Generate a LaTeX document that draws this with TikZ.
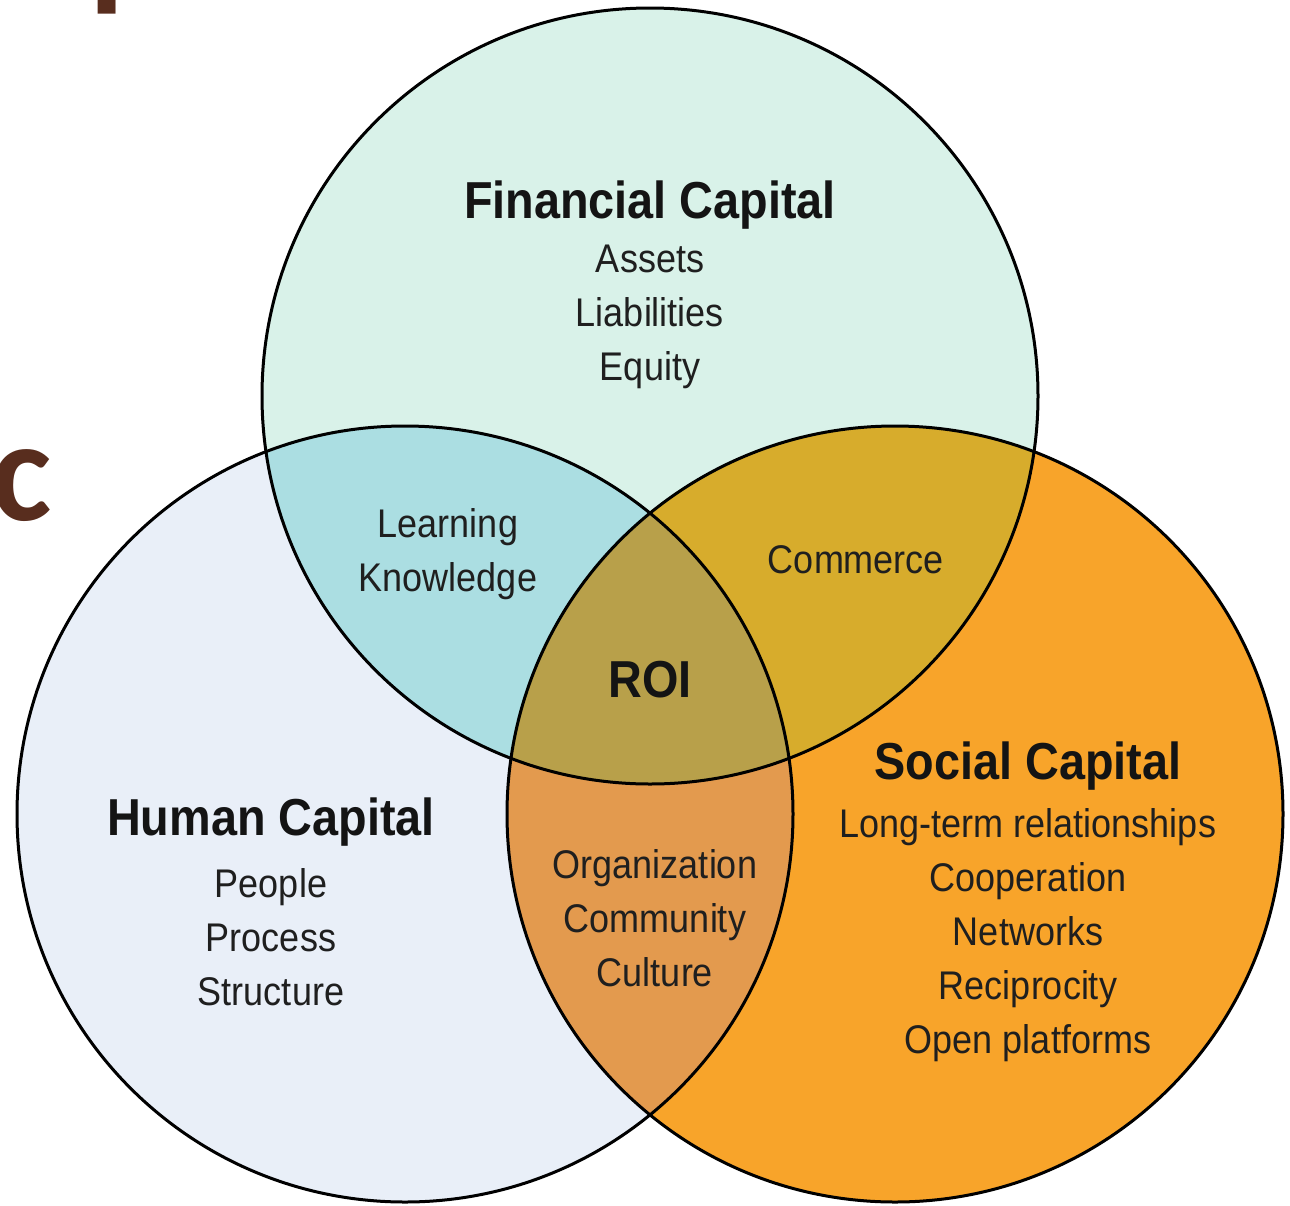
\documentclass[tikz,border=0pt]{standalone}
\usepackage{fontspec}
\setmainfont{Liberation Sans}
\newfontfamily\cond{Liberation Sans}[FakeStretch=0.9]
\newfontfamily\slidefont{Carlito}

\definecolor{finfill}{HTML}{D9F2E9}
\definecolor{humfill}{HTML}{E9EFF8}
\definecolor{socfill}{HTML}{F8A42A}
\definecolor{learnfill}{HTML}{ABDEE2}
\definecolor{commfill}{HTML}{D7AC2C}
\definecolor{orgfill}{HTML}{E39A4E}
\definecolor{roifill}{HTML}{B8A04A}
\definecolor{slidebrown}{HTML}{582D1E}

\newcommand{\capr}{388}

\begin{document}
\begin{tikzpicture}[
    x=0.5pt, y=-0.5pt,
    ring/.style={draw=black, line width=1.5pt},
    title/.style={font=\cond\bfseries\fontsize{26}{30}\selectfont, text=black!92, inner sep=0pt},
    item/.style={font=\cond\fontsize{20}{27}\selectfont, text=black!88, align=center, inner sep=0pt},
    slide/.style={font=\slidefont\bfseries\fontsize{72}{90}\selectfont, text=slidebrown, inner sep=0pt}
]
    \useasboundingbox (0,0) rectangle (1290,1205);
    \clip (0,0) rectangle (1290,1205);
    \fill[white] (0,0) rectangle (1290,1205);

    % --- slide heading, mostly hidden ---
    \node[slide, anchor=base west] (head) at (-58,-9) {Capital};
    \node[slide, anchor=base west] (headc) at (-9,520) {c};

    % --- circle centres ---
    \coordinate (fin) at (650,396);
    \coordinate (hum) at (405,814);
    \coordinate (soc) at (895,814);

    % base discs
    \fill[finfill] (fin) circle[radius=\capr];
    \fill[humfill] (hum) circle[radius=\capr];
    \fill[socfill] (soc) circle[radius=\capr];

    % pairwise overlaps
    \begin{scope}
        \clip (fin) circle[radius=\capr];
        \fill[learnfill] (hum) circle[radius=\capr];
        \fill[commfill] (soc) circle[radius=\capr];
    \end{scope}
    \begin{scope}
        \clip (hum) circle[radius=\capr];
        \fill[orgfill] (soc) circle[radius=\capr];
    \end{scope}
    % centre
    \begin{scope}
        \clip (fin) circle[radius=\capr];
        \clip (hum) circle[radius=\capr];
        \fill[roifill] (soc) circle[radius=\capr];
    \end{scope}

    \draw[ring] (fin) circle[radius=\capr];
    \draw[ring] (hum) circle[radius=\capr];
    \draw[ring] (soc) circle[radius=\capr];

    % --- labels ---
    \node[title] (fintitle) at (650,205) {Financial Capital};
    \node[item] (finitems) at (650,317) {Assets\\Liabilities\\Equity};

    \node[title] (humtitle) at (271,822) {Human Capital};
    \node[item] (humitems) at (271,937) {People\\Process\\Structure};

    \node[title] (soctitle) at (1028,766) {Social Capital};
    \node[item] (socitems) at (1028,935) {Long-term relationships\\Cooperation\\Networks\\Reciprocity\\Open platforms};

    \node[item] (learn) at (448,554) {Learning\\Knowledge};
    \node[item] (comm) at (856,560) {Commerce};
    \node[item] (org) at (655,918) {Organization\\Community\\Culture};
    \node[title] (roi) at (650,680) {ROI};
\end{tikzpicture}
\end{document}
